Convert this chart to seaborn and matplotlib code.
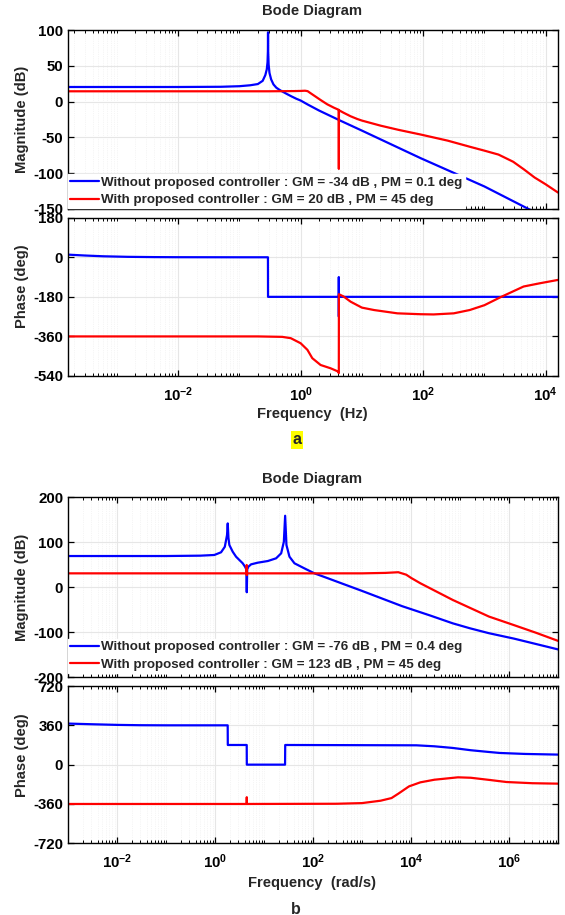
import numpy as np
import pandas as pd
import matplotlib
matplotlib.use("Agg")
import matplotlib.pyplot as plt
from matplotlib.ticker import FixedLocator, LogLocator, FuncFormatter, NullFormatter
import seaborn as sns

# ---------------- data: panel a (frequency in Hz) ----------------
A_MAG_BLUE_F = [1.59e-4, 1e-2, 0.05, 0.1, 0.15, 0.2, 0.24, 0.265, 0.28, 0.288, 0.292,
                0.2935, 0.295, 0.30, 0.31, 0.33, 0.36, 0.40, 0.45, 0.50, 0.60, 0.70,
                0.85, 1.0, 1.3, 2.0, 4.22, 10, 91, 1000, 5250, 1.59e4]
A_MAG_BLUE = [20.4, 20.4, 20.7, 21.5, 22.8, 24.5, 29, 37, 45, 55, 70,
              96.8, 70, 52, 40, 31, 24, 19.5, 16.5, 14.2, 10.5, 7.5,
              4, 1.5, -4, -12.5, -25.7, -40.5, -79, -118.5, -150, -169]

A_MAG_RED_F = [1.59e-4, 0.3, 0.8, 1.0, 1.18, 1.3, 1.46, 1.76, 2.12, 2.72, 3.49, 4.19,
               4.205, 4.22, 5.01, 6.55, 8.41, 10, 20.2, 39.8, 91.2, 251, 575, 1000,
               1700, 2950, 4470, 6600, 1e4, 1.59e4]
A_MAG_RED = [14.4, 14.4, 14.7, 14.9, 15.2, 14.6, 11.6, 6.9, 2.2, -3.8, -8.5, -11.5,
             -94, -12.0, -15.5, -20.5, -24.3, -26.5, -33.6, -39.5, -46, -54.5, -63, -68.5,
             -74, -84, -95, -106, -115.5, -127]

A_PH_BLUE_F = [1.59e-4, 3e-4, 6e-4, 1.5e-3, 4e-3, 1e-2, 0.1, 0.2925, 0.2935,
               4.195, 4.2, 4.205, 4.21, 1.59e4]
A_PH_BLUE = [12, 8, 4.5, 2, 0.8, 0.3, 0, 0, -180,
             -180, -90, -270, -180, -180]

A_PH_RED_F = [1.59e-4, 0.2, 0.5, 0.69, 1.0, 1.29, 1.55, 2.12, 3.09, 4.12, 4.2, 4.215,
              5.0, 6.55, 10, 15.8, 38, 91, 148, 316, 575, 1000, 1820, 4365, 8130, 1.59e4]
A_PH_RED = [-360, -360, -362, -368, -391, -421, -459, -490, -505, -520, -527, -168,
            -178, -202, -229, -240, -255, -259, -260, -255, -240, -218, -182, -133, -118, -103]

# ---------------- data: panel b (frequency in rad/s) ----------------
B_MAG_BLUE_W = [1e-3, 0.1, 0.5, 0.968, 1.33, 1.585, 1.76, 1.82, 1.88, 1.963, 2.30, 2.69,
                3.14, 3.68, 4.10, 4.35, 4.45, 4.55, 4.80, 5.45, 7.46, 11.97, 17.66, 22.4,
                25.4, 27.0, 28.7, 33.1, 41.9, 67.0, 107, 202, 378, 1000, 6607, 25100,
                70800, 1.585e5, 3.89e5, 1.26e6, 3.55e6, 1e7]
B_MAG_BLUE = [69.5, 69.5, 70.3, 71.8, 77.8, 90, 116, 142, 110, 94, 79, 68,
              60.7, 53.3, 45.8, 40, -11, 40, 45.8, 51, 54.7, 58.4, 64.4, 75.5,
              101, 159, 94, 68, 53.3, 42, 31, 20, 9, -8, -42, -63,
              -80, -91, -102, -114, -126, -138]

B_MAG_RED_W = [1e-3, 4.40, 4.44, 4.46, 4.50, 1000, 3000, 5500, 8000, 1e4, 15500,
               70800, 3.89e5, 1.26e6, 3.55e6, 1e7]
B_MAG_RED = [31, 31, 49.6, 27, 31, 31, 32, 33.5, 28, 21, 9,
             -28, -65, -84, -101, -119]

B_PH_BLUE_W = [1e-3, 3e-3, 1e-2, 3e-2, 0.1, 1.815, 1.825, 4.44, 4.46, 26.9, 27.1,
               12900, 30000, 70800, 1.66e5, 3.89e5, 6.46e5, 2.14e6, 1e7]
B_PH_BLUE = [376, 370, 364, 361, 360, 360, 180, 180, 0, 0, 180,
             177, 168, 153, 132, 116, 107, 98, 92]

B_PH_RED_W = [1e-3, 4.43, 4.45, 4.47, 300, 1000, 2400, 4000, 5500, 9100, 15500,
              30000, 91000, 1.66e5, 4e5, 8.9e5, 3e6, 1e7]
B_PH_RED = [-360, -360, -298, -360, -358, -352, -330, -306, -266, -199, -162,
            -138, -116, -120, -140, -159, -170, -174]

# ---------------- labels and ticks ----------------
LEGEND_A = ["Without proposed controller : GM = -34 dB , PM = 0.1 deg",
            "With proposed controller : GM = 20 dB , PM = 45 deg"]
LEGEND_B = ["Without proposed controller : GM = -76 dB , PM = 0.4 deg",
            "With proposed controller : GM = 123 dB , PM = 45 deg"]
A_XTICKS = [1e-2, 1e0, 1e2, 1e4]
B_XTICKS = [1e-2, 1e0, 1e2, 1e4, 1e6]
A_MAG_YTICKS = [100, 50, 0, -50, -100, -150]
A_PH_YTICKS = [180, 0, -180, -360, -540]
B_MAG_YTICKS = [200, 100, 0, -100, -200]
B_PH_YTICKS = [720, 360, 0, -360, -720]

BLUE = "#0000ff"
RED = "#ff0000"

sns.set_theme(style="white")
plt.rcParams.update({
    "font.family": ["Liberation Sans", "DejaVu Sans"],
    "font.weight": "bold",
    "axes.labelweight": "bold",
    "axes.unicode_minus": False,
    "mathtext.fontset": "custom",
    "mathtext.rm": "Liberation Sans:bold",
    "mathtext.bf": "Liberation Sans:bold",
    "mathtext.it": "Liberation Sans:bold",
    "mathtext.default": "bf",
    "axes.edgecolor": "black",
    "axes.linewidth": 1.0,
})

TICK_FS = 10.8
LABEL_FS = 10.6
LEG_FS = 9.6

fig = plt.figure(figsize=(5.65, 9.15), dpi=100)
W, H = 565.0, 915.0


def add_axes(top_px, bottom_px, left_px=68, right_px=558):
    return fig.add_axes([left_px / W, 1 - bottom_px / H,
                         (right_px - left_px) / W, (bottom_px - top_px) / H])


def decade_label(v, pos):
    e = int(round(np.log10(v)))
    return r"$\mathbf{10^{%d}}$" % e


def style(ax, xlim, xticks, ylim, yticks, show_x):
    ax.set_xscale("log")
    ax.set_xlim(*xlim)
    ax.set_ylim(*ylim)
    ax.xaxis.set_major_locator(FixedLocator(xticks))
    ax.xaxis.set_minor_locator(LogLocator(base=10, subs=np.arange(1, 10) * 1.0, numticks=200))
    ax.xaxis.set_minor_formatter(NullFormatter())
    if show_x:
        ax.xaxis.set_major_formatter(FuncFormatter(decade_label))
    else:
        ax.xaxis.set_major_formatter(NullFormatter())
    ax.yaxis.set_major_locator(FixedLocator(yticks))
    ax.set_yticklabels([str(t) for t in yticks])
    ax.tick_params(which="both", direction="in", top=True, right=True,
                   bottom=True, left=True, labelsize=TICK_FS, colors="black")
    ax.tick_params(which="major", length=4, width=0.9, pad=3.5)
    ax.tick_params(which="minor", length=2.2, width=0.7)
    ax.tick_params(axis="x", which="major", pad=6.5)
    ax.set_axisbelow(True)
    ax.grid(which="major", color="#e6e6e6", linewidth=0.8, linestyle="-")
    ax.grid(which="minor", axis="x", color="#ececec", linewidth=0.5, linestyle=":")
    ax.set_xlabel("")
    ax.set_ylabel("")
    for s in ax.spines.values():
        s.set_color("black")
        s.set_linewidth(1.0)
        s.set_visible(True)
    for lab in ax.get_xticklabels() + ax.get_yticklabels():
        lab.set_fontweight("bold")


def curve(ax, f, y, color):
    df = pd.DataFrame({"f": f, "v": y})
    sns.lineplot(data=df, x="f", y="v", ax=ax, color=color, linewidth=1.6,
                 sort=False, estimator=None, legend=False)


def legend(ax, labels, y_anchor):
    handles = [plt.Line2D([], [], color=BLUE, lw=1.6),
               plt.Line2D([], [], color=RED, lw=1.6)]
    leg = ax.legend(handles, labels, loc="lower left", bbox_to_anchor=(0.0, y_anchor),
                    frameon=True, fancybox=False, framealpha=1.0, facecolor="white",
                    edgecolor="white", handlelength=2.2,
                    handletextpad=0.15, labelspacing=0.4, borderpad=0.15,
                    borderaxespad=0.0, prop={"weight": "bold", "size": LEG_FS})
    leg.set_zorder(10)


def text(x_px, y_px, s, size=LABEL_FS, rotation=0, **kw):
    return fig.text(x_px / W, 1 - y_px / H, s, ha="center", va="center",
                    fontsize=size, fontweight="bold", rotation=rotation, **kw)


# ---------------- panel a ----------------
xa = (1.5915e-4, 1.5915e4)
ax1 = add_axes(30, 209)
curve(ax1, A_MAG_BLUE_F, A_MAG_BLUE, BLUE)
curve(ax1, A_MAG_RED_F, A_MAG_RED, RED)
style(ax1, xa, A_XTICKS, (-150, 100), A_MAG_YTICKS, False)
legend(ax1, LEGEND_A, 0.004)

ax2 = add_axes(217.7, 376)
curve(ax2, A_PH_BLUE_F, A_PH_BLUE, BLUE)
curve(ax2, A_PH_RED_F, A_PH_RED, RED)
style(ax2, xa, A_XTICKS, (-540, 180), A_PH_YTICKS, True)

text(312, 11, "Bode Diagram")
text(22, 119.5, "Magnitude (dB)", rotation=90)
text(22, 286.5, "Phase (deg)", rotation=90)
text(312, 414, "Frequency  (Hz)")
text(297, 440, "a", size=11.5,
     bbox=dict(boxstyle="square,pad=0.1", facecolor="#ffff00", edgecolor="none"))

# ---------------- panel b ----------------
xb = (1e-3, 1e7)
ax3 = add_axes(497.3, 677.3)
curve(ax3, B_MAG_BLUE_W, B_MAG_BLUE, BLUE)
curve(ax3, B_MAG_RED_W, B_MAG_RED, RED)
style(ax3, xb, B_XTICKS, (-200, 200), B_MAG_YTICKS, False)
legend(ax3, LEGEND_B, 0.023)

ax4 = add_axes(686, 843.3)
curve(ax4, B_PH_BLUE_W, B_PH_BLUE, BLUE)
curve(ax4, B_PH_RED_W, B_PH_RED, RED)
style(ax4, xb, B_XTICKS, (-720, 720), B_PH_YTICKS, True)

text(312, 479, "Bode Diagram")
text(22, 587.5, "Magnitude (dB)", rotation=90)
text(22, 755, "Phase (deg)", rotation=90)
text(312, 883, "Frequency  (rad/s)")
text(296, 909, "b", size=11.5)

fig.savefig("out.png", dpi=100, facecolor="white")
